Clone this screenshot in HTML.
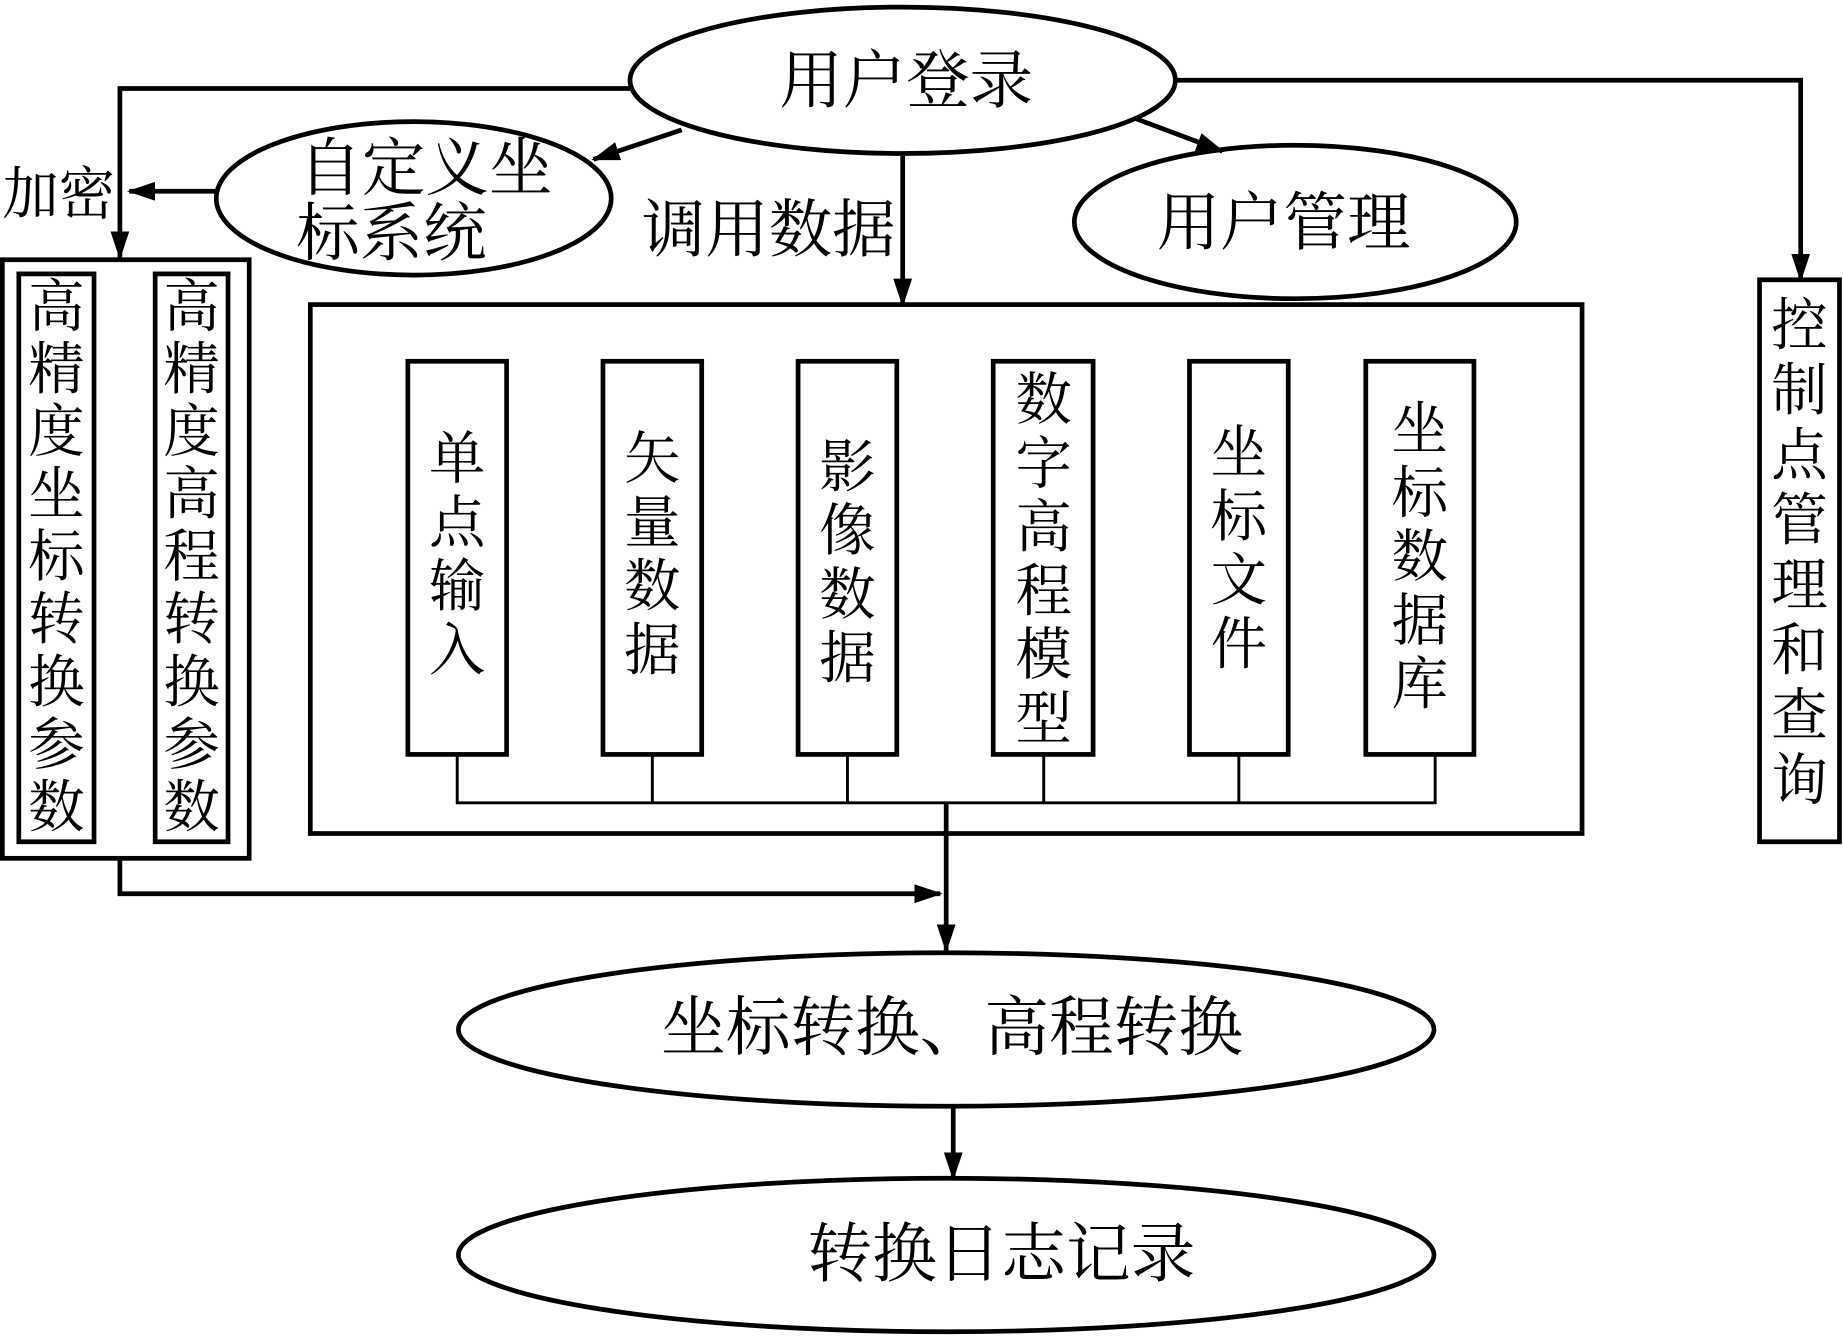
<!DOCTYPE html>
<html><head><meta charset="utf-8"><style>html,body{margin:0;padding:0;background:#fff}svg{display:block}text{font-family:"Liberation Serif","Noto Serif CJK SC",serif;fill:#000}</style></head>
<body>
<svg width="1843" height="1340" viewBox="0 0 1568 1135" preserveAspectRatio="none" xmlns="http://www.w3.org/2000/svg">
<defs>
<marker id="b" markerWidth="24" markerHeight="16" refX="22" refY="8" orient="auto" markerUnits="userSpaceOnUse"><path d="M0,0 L24,8 L0,16 z" fill="#000"/></marker></defs>
<g fill="none" stroke="#000" stroke-width="4">
<ellipse cx="768" cy="68" rx="232" ry="62"/>
<ellipse cx="352" cy="168" rx="168" ry="65"/>
<ellipse cx="1102" cy="188" rx="188" ry="65"/>
<ellipse cx="805" cy="872" rx="415" ry="65"/>
<ellipse cx="805" cy="1063" rx="415" ry="65"/>
<polyline points="538,75 102,75 102,218" marker-end="url(#b)"/>
<line x1="185" y1="162" x2="110" y2="162" marker-end="url(#b)"/>
<line x1="580" y1="110" x2="505" y2="135" marker-end="url(#b)"/>
<line x1="965" y1="100" x2="1040" y2="128" marker-end="url(#b)"/>
<line x1="768" y1="132" x2="768" y2="258" marker-end="url(#b)"/>
<polyline points="1000,68 1532,68 1532,237" marker-end="url(#b)"/>
<rect x="2" y="220" width="210" height="507"/>
<rect x="16" y="232" width="64" height="481"/>
<rect x="132" y="232" width="62" height="481"/>
<rect x="264" y="258" width="1082" height="448"/>
<rect x="347" y="306" width="84" height="333"/>
<rect x="513" y="306" width="84" height="333"/>
<rect x="679" y="306" width="84" height="333"/>
<rect x="845" y="306" width="85" height="333"/>
<rect x="1012" y="306" width="84" height="333"/>
<rect x="1162" y="306" width="92" height="333"/>
<rect x="1497" y="237" width="68" height="476"/>
<line x1="805" y1="680" x2="805" y2="805" marker-end="url(#b)"/>
<polyline points="102,727 102,757 800,757" marker-end="url(#b)"/>
<line x1="811" y1="938" x2="811" y2="998" marker-end="url(#b)"/>
</g>
<g fill="none" stroke="#000" stroke-width="2.5">
<polyline points="389,639 389,680 1221,680 1221,639"/>
<line x1="555" y1="639" x2="555" y2="680"/>
<line x1="721" y1="639" x2="721" y2="680"/>
<line x1="888" y1="639" x2="888" y2="680"/>
<line x1="1054" y1="639" x2="1054" y2="680"/>
</g>
<g font-size="54" text-anchor="middle">
<text x="771" y="87">用户登录</text>
<text x="362" y="161">自定义坐</text>
<text x="333" y="216">标系统</text>
<text x="1092" y="207">用户管理</text>
<text x="50" y="181" font-size="48">加密</text>
<text x="654" y="213">调用数据</text>
<text x="810" y="889" font-size="55">坐标转换、高程转换</text>
<text x="852" y="1081" font-size="55">转换日志记录</text>
</g>
<g font-size="48" text-anchor="middle">
<text x="48" y="276"><tspan x="48" dy="0">高</tspan><tspan x="48" dy="53">精</tspan><tspan x="48" dy="53">度</tspan><tspan x="48" dy="53">坐</tspan><tspan x="48" dy="53">标</tspan><tspan x="48" dy="53">转</tspan><tspan x="48" dy="53">换</tspan><tspan x="48" dy="53">参</tspan><tspan x="48" dy="53">数</tspan></text>
<text x="163" y="276"><tspan x="163" dy="0">高</tspan><tspan x="163" dy="53">精</tspan><tspan x="163" dy="53">度</tspan><tspan x="163" dy="53">高</tspan><tspan x="163" dy="53">程</tspan><tspan x="163" dy="53">转</tspan><tspan x="163" dy="53">换</tspan><tspan x="163" dy="53">参</tspan><tspan x="163" dy="53">数</tspan></text>
<text x="1531" y="292"><tspan x="1531" dy="0">控</tspan><tspan x="1531" dy="55">制</tspan><tspan x="1531" dy="55">点</tspan><tspan x="1531" dy="55">管</tspan><tspan x="1531" dy="55">理</tspan><tspan x="1531" dy="55">和</tspan><tspan x="1531" dy="55">查</tspan><tspan x="1531" dy="55">询</tspan></text>
<text x="389" y="405"><tspan x="389" dy="0">单</tspan><tspan x="389" dy="54">点</tspan><tspan x="389" dy="54">输</tspan><tspan x="389" dy="54">入</tspan></text>
<text x="555" y="405"><tspan x="555" dy="0">矢</tspan><tspan x="555" dy="54">量</tspan><tspan x="555" dy="54">数</tspan><tspan x="555" dy="54">据</tspan></text>
<text x="721" y="412"><tspan x="721" dy="0">影</tspan><tspan x="721" dy="54">像</tspan><tspan x="721" dy="54">数</tspan><tspan x="721" dy="54">据</tspan></text>
<text x="888" y="355"><tspan x="888" dy="0">数</tspan><tspan x="888" dy="54">字</tspan><tspan x="888" dy="54">高</tspan><tspan x="888" dy="54">程</tspan><tspan x="888" dy="54">模</tspan><tspan x="888" dy="54">型</tspan></text>
<text x="1054" y="400"><tspan x="1054" dy="0">坐</tspan><tspan x="1054" dy="54">标</tspan><tspan x="1054" dy="54">文</tspan><tspan x="1054" dy="54">件</tspan></text>
<text x="1208" y="380"><tspan x="1208" dy="0">坐</tspan><tspan x="1208" dy="54">标</tspan><tspan x="1208" dy="54">数</tspan><tspan x="1208" dy="54">据</tspan><tspan x="1208" dy="54">库</tspan></text>
</g>
</svg>
</body></html>
